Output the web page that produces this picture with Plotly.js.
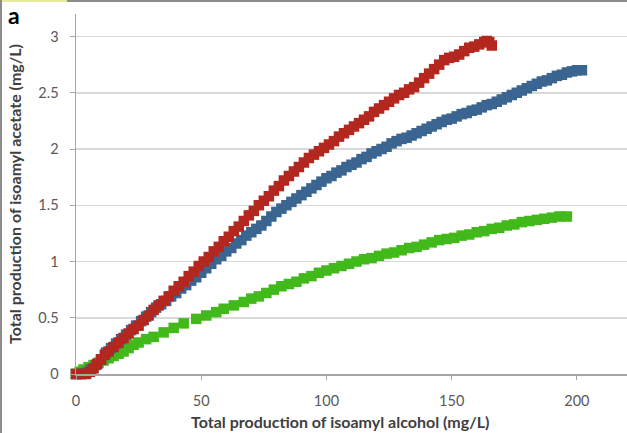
<!DOCTYPE html>
<html>
<head>
<meta charset="utf-8">
<script src="https://cdn.plot.ly/plotly-3.0.1.min.js"></script>
<style>
  html, body { margin: 0; padding: 0; background: #fff; }
  #wrap { position: relative; width: 627px; height: 433px; overflow: hidden; }
  #chart { width: 627px; height: 433px; }
  .bt { position: absolute; left: 0; top: 0; width: 627px; height: 2px; background: #8c8c8c; }
  .by { position: absolute; left: 0; top: 0; width: 67px; height: 2px; background: #e6eb9c; }
  .bl { position: absolute; left: 0; top: 0; width: 2px; height: 433px; background: #8c8c8c; }
</style>
</head>
<body>
<div id="wrap">
  <div id="chart"></div>
  <div class="bt"></div><div class="by"></div><div class="bl"></div>
</div>
<script>
// Total production of isoamyl alcohol (mg/L) vs isoamyl acetate (mg/L)
const blueX = [0,2,4,6,8,10,12,14,16,18,20,22,24,26,28,30,32,34,36,38,40,42,44,46,48,50,52,54,56,58,60,62,64,66,68,70,72,74,76,78,80,82,84,86,88,90,92,94,96,98,100,102,104,106,108,110,112,114,116,118,120,122,124,126,128,130,132,134,136,138,140,142,144,146,148,150,152,154,156,158,160,162,164,166,168,170,172,174,176,178,180,182,184,186,188,190,192,194,196,198,200,202];
const blueY = [0,0,0.01,0.04,0.08,0.13,0.19,0.23,0.27,0.31,0.35,0.39,0.43,0.47,0.51,0.55,0.59,0.62,0.65,0.69,0.72,0.76,0.79,0.83,0.86,0.9,0.94,0.98,1.02,1.05,1.09,1.12,1.16,1.19,1.23,1.26,1.29,1.32,1.36,1.4,1.44,1.47,1.5,1.53,1.56,1.59,1.62,1.65,1.68,1.71,1.74,1.76,1.79,1.81,1.84,1.86,1.88,1.91,1.93,1.96,1.98,2.0,2.02,2.05,2.07,2.09,2.1,2.12,2.14,2.16,2.18,2.2,2.22,2.24,2.26,2.27,2.29,2.31,2.32,2.34,2.35,2.37,2.39,2.4,2.42,2.44,2.46,2.48,2.5,2.52,2.54,2.56,2.58,2.6,2.61,2.63,2.65,2.66,2.68,2.69,2.7,2.7];

const redX = [0,2,4,5.5,7,8.5,10,11.5,13,15,17,19,21,23,25,27,29,31,33,35,37,39,41,43,45,47,49,51,53,55,57,59,61,63,65,67,69,71,73,75,77,79,81,83,85,87,89,91,93,95,97,99,101,103,105,107,109,111,113,115,117,119,121,123,125,127,129,131,133,135,137,139,141,143,145,147,149,151,153,155,157,159,161,163,164,165,166];
const redY = [0,0,0,0.02,0.05,0.09,0.13,0.17,0.2,0.24,0.28,0.32,0.36,0.4,0.43,0.48,0.52,0.57,0.61,0.65,0.69,0.74,0.78,0.82,0.87,0.91,0.96,1.0,1.04,1.09,1.13,1.18,1.22,1.27,1.31,1.36,1.41,1.45,1.5,1.54,1.58,1.63,1.67,1.72,1.76,1.8,1.84,1.88,1.92,1.95,1.98,2.01,2.04,2.07,2.11,2.14,2.17,2.2,2.23,2.26,2.29,2.33,2.36,2.39,2.42,2.45,2.48,2.5,2.53,2.55,2.59,2.63,2.67,2.71,2.75,2.79,2.81,2.82,2.84,2.87,2.9,2.91,2.93,2.95,2.96,2.95,2.92];

const greenX = [0,1.5,3,5,7,9,11,13,15,17,19,21,23,25,28,31,35,39,43,48,52,56,59,63,67,70,73,76,79,82,85,88,91,94,97,100,103,106,109,112,115,118,121,124,127,130,133,136,139,142,145,148,151,154,157,160,163,166,169,172,175,178,181,184,187,190,193,196];
const greenY = [0,0.02,0.04,0.06,0.08,0.1,0.12,0.14,0.16,0.18,0.2,0.23,0.26,0.28,0.31,0.33,0.37,0.41,0.45,0.49,0.52,0.55,0.58,0.61,0.64,0.67,0.69,0.72,0.75,0.78,0.8,0.82,0.85,0.87,0.9,0.92,0.94,0.96,0.98,1.0,1.02,1.03,1.05,1.07,1.08,1.1,1.12,1.13,1.15,1.17,1.19,1.2,1.21,1.23,1.24,1.26,1.27,1.29,1.3,1.32,1.33,1.35,1.36,1.37,1.38,1.39,1.4,1.4];

const xTickVals = [0,50,100,150,200];
const yTickVals = [0,0.5,1,1.5,2,2.5,3];
const yTickText = ['0','0.5','1','1.5','2','2.5','3'];

const FONT = 'Lato, "Open Sans", "Liberation Sans", sans-serif';
function series(x, y, color) {
  return {
    type: 'scatter', mode: 'markers', x: x, y: y, cliponaxis: false,
    marker: { symbol: 'square', size: 10.5, color: color, line: { width: 0 } },
    hoverinfo: 'skip', showlegend: false
  };
}
const data = [
  series(greenX, greenY, '#41b91a'),
  series(blueX, blueY, '#3b6591'),
  series(redX, redY, '#b3271f')
];

const W = 627, H = 433, L = 75.5, T = 14, B = 59;
const pw = W - L, ph = H - T - B;
const layout = {
  width: W, height: H,
  margin: { l: L, r: 0, t: T, b: B, pad: 0 },
  paper_bgcolor: '#ffffff', plot_bgcolor: '#ffffff',
  font: { family: FONT, size: 14, color: '#595959' },
  xaxis: {
    range: [0, 220], tickvals: xTickVals, ticktext: xTickVals.map(String),
    showgrid: false, zeroline: false, showline: true, linecolor: '#a6a6a6', linewidth: 1.5,
    ticks: 'outside', ticklen: 4, tickcolor: '#a6a6a6', tickwidth: 1,
    ticklabelstandoff: 9,
    tickfont: { family: FONT, size: 14.5, color: '#595959' }
  },
  yaxis: {
    range: [0, 3.2], tickvals: yTickVals, ticktext: yTickText,
    showgrid: true, gridcolor: '#d9d9d9', gridwidth: 1.5,
    zeroline: false, showline: true, linecolor: '#a6a6a6', linewidth: 1.5,
    ticks: 'outside', ticklen: 5, tickcolor: '#a6a6a6', tickwidth: 1,
    ticklabelstandoff: 8,
    tickfont: { family: FONT, size: 14.5, color: '#595959' },
    title: { text: 'Total production of isoamyl acetate (mg/L)', standoff: 12,
             font: { family: FONT, size: 16, color: '#404040', weight: 'bold' } }
  },
  annotations: [
    { text: '<b>Total production of isoamyl alcohol (mg/L)</b>', xref: 'paper', yref: 'paper',
      x: (340 - L) / pw, y: -(421 - (H - B)) / ph, xanchor: 'center', yanchor: 'middle',
      showarrow: false, font: { family: FONT, size: 16, color: '#404040' } },
    { text: '<b>a</b>', xref: 'paper', yref: 'paper',
      x: (5 - L) / pw, y: 1 + (T - 15) / ph, xanchor: 'left', yanchor: 'middle',
      showarrow: false, font: { family: FONT, size: 23, color: '#000000' } }
  ]
};
Plotly.newPlot('chart', data, layout, { displayModeBar: false, staticPlot: true });
</script>
</body>
</html>
